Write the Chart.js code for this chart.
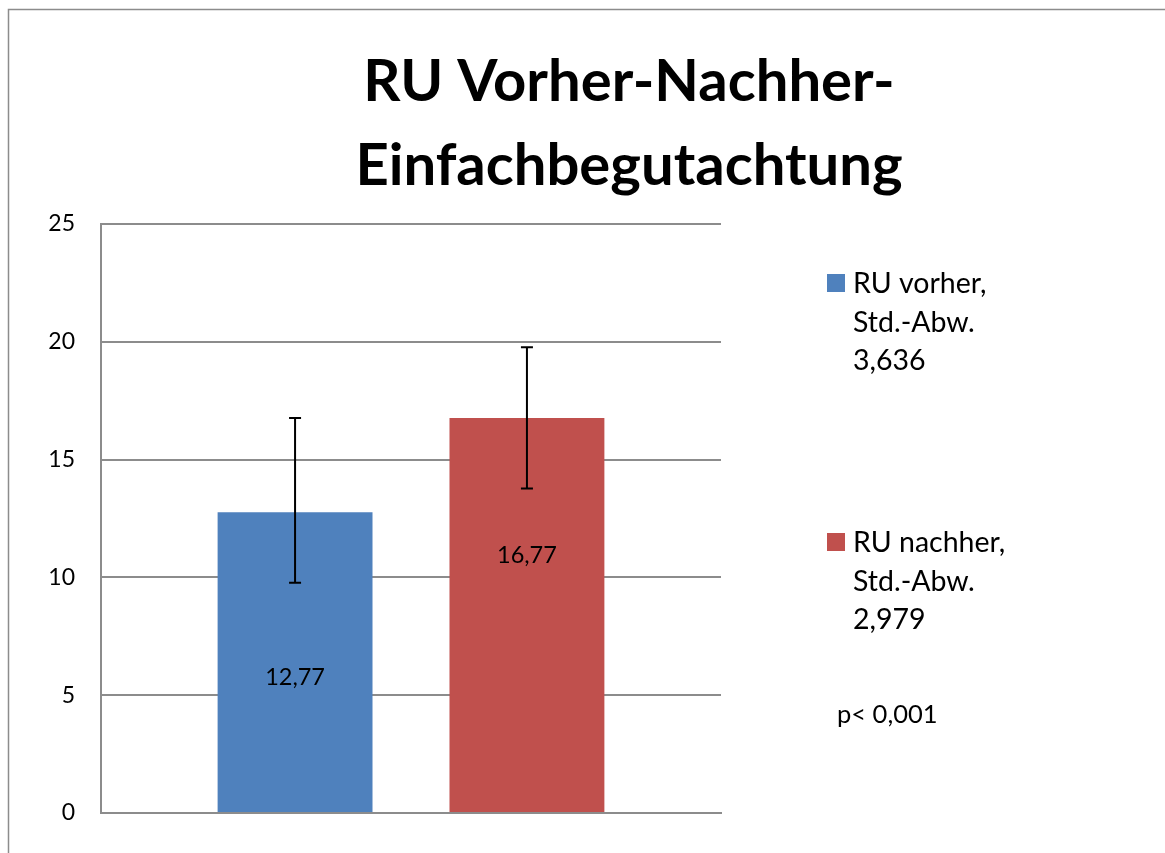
<!DOCTYPE html>
<html>
<head>
<meta charset="utf-8">
<script src="https://cdn.jsdelivr.net/npm/chart.js@4/dist/chart.umd.min.js"></script>
<style>
  body { margin: 0; background: #fff; }
  #wrap { width: 1165px; height: 853px; }
</style>
</head>
<body>
<div id="wrap"><canvas id="ruChart" width="1165" height="853"></canvas></div>
<script>
// chart data
const titleLines = ['RU Vorher-Nachher-', 'Einfachbegutachtung'];
const categories = [''];
const seriesNames = ['RU vorher,', 'RU nachher,'];
const stdDevLabels = ['3,636', '2,979'];
const means = [12.77, 16.77];
const errorPlus = [4, 3];
const errorMinus = [3, 3];
const valueLabels = ['12,77', '16,77'];
const yTickValues = [0, 5, 10, 15, 20, 25];
const noteText = 'p< 0,001';
const seriesColors = ['#4F81BD', '#C0504D'];

const FONT = 'Lato, "Open Sans", sans-serif';

// draws border, title, error bars, value labels and the legend
const extrasPlugin = {
    id: 'extras',
    beforeDraw(chart) {
        const ctx = chart.ctx;
        ctx.save();
        ctx.strokeStyle = '#8c8c8c';
        ctx.lineWidth = 1.5;
        ctx.beginPath();
        ctx.moveTo(8.5, chart.height);
        ctx.lineTo(8.5, 9.5);
        ctx.lineTo(chart.width, 9.5);
        ctx.stroke();

        ctx.fillStyle = '#000';
        ctx.font = 'bold 58px ' + FONT;
        ctx.textAlign = 'center';
        ctx.textBaseline = 'middle';
        titleLines.forEach((line, i) => ctx.fillText(line, 629, 82 + i * 84));
        ctx.restore();
    },
    afterDatasetsDraw(chart) {
        const ctx = chart.ctx;
        const y = chart.scales.y;
        const labelFrac = [0.55, 0.35];
        ctx.save();
        chart.data.datasets.forEach((ds, i) => {
            const bar = chart.getDatasetMeta(i).data[0];
            const hi = y.getPixelForValue(means[i] + errorPlus[i]);
            const lo = y.getPixelForValue(means[i] - errorMinus[i]);
            ctx.strokeStyle = '#000';
            ctx.lineWidth = 2;
            ctx.beginPath();
            ctx.moveTo(bar.x, hi); ctx.lineTo(bar.x, lo);
            ctx.moveTo(bar.x - 6, hi); ctx.lineTo(bar.x + 6, hi);
            ctx.moveTo(bar.x - 6, lo); ctx.lineTo(bar.x + 6, lo);
            ctx.stroke();

            ctx.fillStyle = '#000';
            ctx.font = '23.5px ' + FONT;
            ctx.textAlign = 'center';
            ctx.textBaseline = 'middle';
            const ly = bar.y + (bar.base - bar.y) * labelFrac[i];
            ctx.fillText(valueLabels[i], bar.x, ly);
        });

        // legend
        const legendTops = [274, 533];
        ctx.font = '28.5px ' + FONT;
        ctx.textAlign = 'left';
        ctx.textBaseline = 'alphabetic';
        seriesNames.forEach((name, i) => {
            const top = legendTops[i];
            ctx.fillStyle = seriesColors[i];
            ctx.fillRect(827, top, 18, 18);
            ctx.fillStyle = '#000';
            [name, 'Std.-Abw.', stdDevLabels[i]].forEach((t, k) => {
                ctx.fillText(t, 853, top + 19 + k * 38.5);
            });
        });
        ctx.font = '25.5px ' + FONT;
        ctx.fillText(noteText, 837, 723);
        ctx.restore();
    }
};

const ctx = document.getElementById('ruChart').getContext('2d');
new Chart(ctx, {
    type: 'bar',
    data: {
        labels: categories,
        datasets: seriesNames.map((name, i) => ({
            label: name,
            data: [means[i]],
            backgroundColor: seriesColors[i],
            borderWidth: 0,
            categoryPercentage: 0.748,
            barPercentage: 0.668
        }))
    },
    options: {
        responsive: false,
        animation: false,
        maintainAspectRatio: false,
        layout: { padding: { left: 0, top: 224, right: 444, bottom: 40 } },
        plugins: {
            legend: { display: false },
            title: { display: false },
            tooltip: { enabled: false }
        },
        scales: {
            x: {
                grid: { display: false },
                ticks: { display: false },
                border: { display: true, color: '#8c8c8c', width: 2 },
                afterFit(s) { s.height = 0; }
            },
            y: {
                min: 0,
                max: 25,
                afterBuildTicks(s) { s.ticks = yTickValues.map(v => ({ value: v })); },
                ticks: {
                    color: '#000',
                    padding: 26,
                    font: { family: FONT, size: 23 }
                },
                grid: { color: '#8c8c8c', lineWidth: 2, drawTicks: false },
                border: { display: true, color: '#8c8c8c', width: 2 },
                afterFit(s) { s.width = 101; }
            }
        }
    },
    plugins: [extrasPlugin]
});
</script>
</body>
</html>
